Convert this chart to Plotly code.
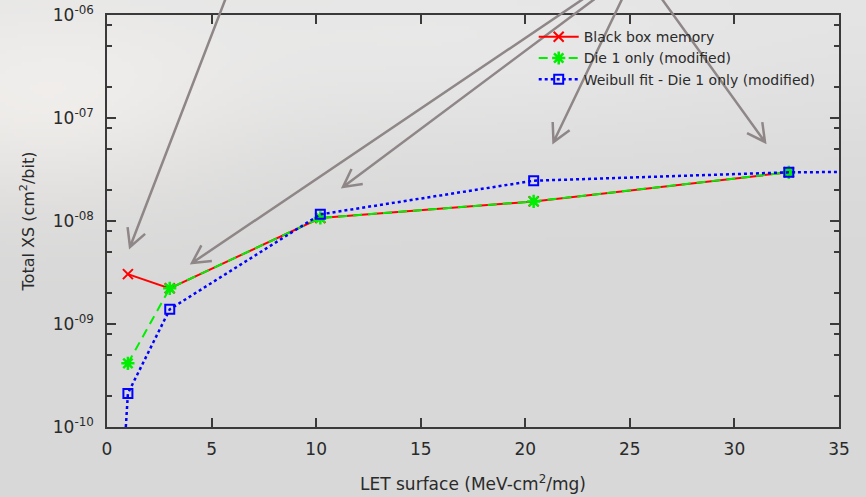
import base64
import struct
import zlib

import numpy as np
import plotly.graph_objects as go

# ---- measured cross sections -------------------------------------------
let_bbm = [1.0, 3.0, 10.2, 20.4, 32.6]
xs_bbm = [3.05e-9, 2.22e-9, 1.07e-8, 1.55e-8, 2.97e-8]

let_die1 = [1.0, 3.0, 10.2, 20.4, 32.6]
xs_die1 = [4.15e-10, 2.22e-9, 1.07e-8, 1.55e-8, 2.97e-8]

# Weibull fit: curve across the LET window, markers at the measured LETs
let_fit = [0.9, 1.0, 3.0, 10.2, 20.4, 32.6, 35.0]
xs_fit = [1.0e-10, 2.12e-10, 1.39e-9, 1.16e-8, 2.46e-8, 2.97e-8, 2.99e-8]
fit_marked = [1, 2, 3, 4, 5]

y_major = [1e-10, 1e-9, 1e-8, 1e-7, 1e-6]
y_major_text = ["10<sup>-10</sup>", "10<sup>-09</sup>", "10<sup>-08</sup>",
                "10<sup>-07</sup>", "10<sup>-06</sup>"]
y_minor = [m * d for d in [1e-10, 1e-9, 1e-8, 1e-7] for m in (2, 5, 8)]
x_ticks = [0, 5, 10, 15, 20, 25, 30, 35]

# ---- page geometry ------------------------------------------------------
W, H = 866, 497
ML, MR, MT, MB = 107, 27, 15, 70
PW, PH = W - ML - MR, H - MT - MB


def px(x, y):
    """pixel position on the page -> paper coordinates"""
    return (x - ML) / PW, (H - MB - y) / PH


# ---- soft grey backdrop -------------------------------------------------
def backdrop_png():
    w, h = 217, 125
    xx, yy = np.meshgrid(np.linspace(0, W, w), np.linspace(0, H, h))
    g = 216 + 12 * np.exp(-(yy / 150.0) ** 2)
    blob = 16 * np.exp(-(((xx - 40) / 200.0) ** 2 + ((yy - 110) / 100.0) ** 2))
    haze = 5 * np.exp(-(((xx - 450) / 260.0) ** 2 + ((yy - 60) / 90.0) ** 2))
    r = g + blob + haze
    gg = g + blob * 0.85 + haze
    b = g + blob * 0.7 + haze
    img = np.clip(np.stack([r, gg, b], axis=-1), 0, 255).astype(np.uint8)
    raw = b"".join(b"\x00" + img[i].tobytes() for i in range(h))

    def chunk(tag, data):
        c = struct.pack(">I", len(data)) + tag + data
        return c + struct.pack(">I", zlib.crc32(tag + data) & 0xFFFFFFFF)

    png = (b"\x89PNG\r\n\x1a\n"
           + chunk(b"IHDR", struct.pack(">IIBBBBB", w, h, 8, 2, 0, 0, 0))
           + chunk(b"IDAT", zlib.compress(raw, 9))
           + chunk(b"IEND", b""))
    return "data:image/png;base64," + base64.b64encode(png).decode()


# ---- callout arrows -----------------------------------------------------
def arrow_path(x0, y0, x1, y1, head=20, half_angle=28):
    d = np.array([x1 - x0, y1 - y0], float)
    d /= np.hypot(*d)
    back = -d
    a = np.radians(half_angle)
    rot = lambda v, t: np.array([v[0] * np.cos(t) - v[1] * np.sin(t),
                                 v[0] * np.sin(t) + v[1] * np.cos(t)])
    w1 = np.array([x1, y1]) + head * rot(back, a)
    w2 = np.array([x1, y1]) + head * rot(back, -a)
    pts = [px(x0, y0), px(x1, y1), px(*w1), px(x1, y1), px(*w2)]
    f = lambda p: f"{p[0]:.5f},{p[1]:.5f}"
    return (f"M{f(pts[0])} L{f(pts[1])} M{f(pts[2])} L{f(pts[3])} L{f(pts[4])}")


arrows = [
    (227, -5, 130, 247),
    (589, -5, 192, 263),
    (600, -5, 343, 187),
    (624, -5, 553.5, 142),
    (659, -5, 765, 142),
]

fig = go.Figure()

fig.add_trace(go.Scatter(
    x=let_bbm, y=xs_bbm, name="Black box memory", mode="lines+markers",
    line=dict(color="#ff0000", width=2),
    marker=dict(symbol="x-thin", size=10, line=dict(color="#ff0000", width=2)),
))
fig.add_trace(go.Scatter(
    x=let_die1, y=xs_die1, name="Die 1 only (modified)", mode="lines+markers",
    line=dict(color="#00ee00", width=2, dash="9px,6px"),
    marker=dict(symbol="asterisk", size=11, line=dict(color="#00ee00", width=2.5)),
))
fig.add_trace(go.Scatter(
    x=let_fit, y=xs_fit, name="Weibull fit - Die 1 only (modified)",
    mode="lines+markers",
    line=dict(color="#0000ff", width=2.5, dash="3px,3px"),
    marker=dict(symbol="square-open", size=9, color="#0000ff",
                line=dict(color="#0000ff", width=2)),
    selectedpoints=fit_marked,
    selected=dict(marker=dict(opacity=1)),
    unselected=dict(marker=dict(opacity=0)),
))

axis_common = dict(
    showline=True, linecolor="#3a3a3a", linewidth=1.5, mirror="ticks",
    ticks="inside", ticklen=9, tickwidth=1.5, tickcolor="#3a3a3a",
    showgrid=False, zeroline=False, automargin=False,
    tickfont=dict(family="DejaVu Sans", size=17, color="#2a2a2a"),
)

fig.update_layout(
    width=W, height=H,
    margin=dict(l=ML, r=MR, t=MT, b=MB, autoexpand=False),
    paper_bgcolor="#dadada",
    plot_bgcolor="rgba(0,0,0,0)",
    font=dict(family="DejaVu Sans", color="#2a2a2a"),
    xaxis=dict(
        range=[0, 35], tickvals=x_ticks, ticklabelstandoff=6,
        title=dict(text="LET surface (MeV-cm<sup>2</sup>/mg)",
                   font=dict(size=17), standoff=20),
        **axis_common,
    ),
    yaxis=dict(
        type="log", range=[-10, -6], tickvals=y_major, ticktext=y_major_text,
        ticklabelstandoff=8,
        minor=dict(tickvals=y_minor, ticks="inside", ticklen=5,
                   tickwidth=1.5, tickcolor="#3a3a3a"),
        title=dict(text="Total XS (cm<sup>2</sup>/bit)",
                   font=dict(size=16), standoff=14),
        **axis_common,
    ),
    legend=dict(
        x=0.975, y=0.985, xanchor="right", yanchor="top",
        bgcolor="rgba(0,0,0,0)", font=dict(size=14, color="#2a2a2a"),
        itemwidth=40, tracegroupgap=0,
    ),
    images=[dict(
        source=backdrop_png(), xref="paper", yref="paper",
        x=-ML / PW, y=1 + MT / PH, sizex=W / PW, sizey=H / PH,
        xanchor="left", yanchor="top", sizing="stretch", layer="below",
    )],
    shapes=[dict(type="path", path=arrow_path(*a), xref="paper", yref="paper",
                 line=dict(color="#8f8787", width=2.5), layer="above")
            for a in arrows],
    showlegend=True,
)

fig.write_html("out.html")
